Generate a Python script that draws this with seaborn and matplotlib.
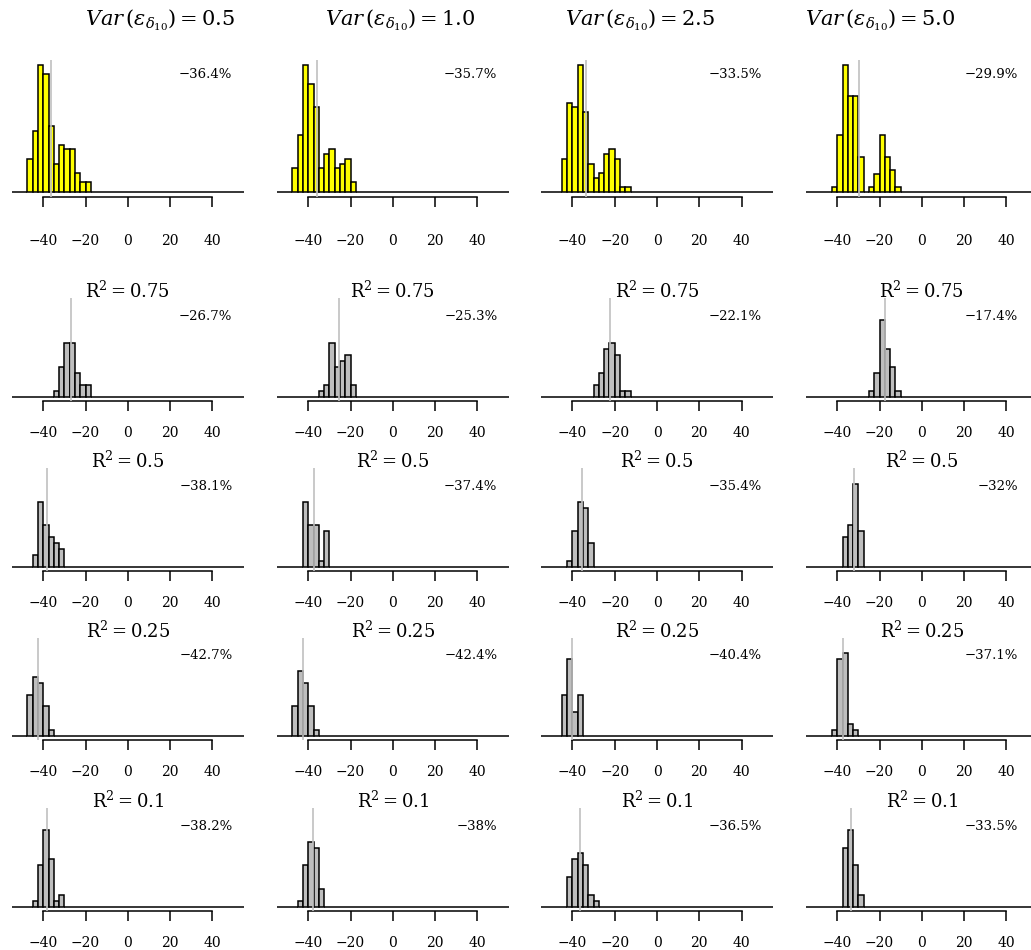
import numpy as np
import pandas as pd
import matplotlib
matplotlib.use("Agg")
import matplotlib.pyplot as plt
import matplotlib.transforms as mtransforms
import seaborn as sns

sns.set_theme(style="white")
plt.rcParams["font.family"] = ["DejaVu Serif"]
plt.rcParams["mathtext.fontset"] = "dejavuserif"
plt.rcParams["text.color"] = "black"
plt.rcParams["xtick.color"] = "black"

# --- data (bin width 2.5, counts per bin) ---
var_values = ["0.5", "1.0", "2.5", "5.0"]
r2_values = ["0.75", "0.5", "0.25", "0.1"]

# top row (yellow): first bin left edge and counts
top_first = [-47.5, -47.5, -45.0, -42.5]
top_counts = [
    [7, 13, 27, 25, 14, 6, 10, 9, 9, 4, 2, 2],
    [5, 12, 27, 23, 18, 5, 8, 9, 5, 6, 7, 2],
    [7, 19, 18, 27, 17, 6, 3, 4, 8, 9, 7, 1, 1],
    [1, 13, 29, 22, 22, 8, 0, 1, 4, 13, 8, 5, 1],
]
top_pct = [-36.4, -35.7, -33.5, -29.9]

# grey rows, one list per R^2 value
grey_first = [
    [-35.0, -35.0, -30.0, -25.0],
    [-45.0, -42.5, -42.5, -37.5],
    [-47.5, -47.5, -45.0, -42.5],
    [-45.0, -45.0, -42.5, -37.5],
]
grey_counts = [
    [[1, 5, 9, 9, 4, 2, 2], [1, 2, 9, 5, 6, 7, 2], [2, 4, 8, 9, 7, 1, 1], [1, 4, 13, 8, 5, 1]],
    [[2, 11, 7, 5, 4, 3], [11, 7, 7, 1, 6], [1, 6, 11, 10, 4], [5, 7, 14, 6]],
    [[7, 10, 9, 5, 1], [5, 11, 9, 5, 1], [7, 13, 4, 7], [1, 13, 14, 2, 1]],
    [[1, 7, 13, 8, 1, 2], [1, 7, 11, 10, 3], [5, 8, 9, 7, 2, 1], [10, 13, 7, 2]],
]
grey_pct = [
    [-26.7, -25.3, -22.1, -17.4],
    [-38.1, -37.4, -35.4, -32],
    [-42.7, -42.4, -40.4, -37.1],
    [-38.2, -38, -36.5, -33.5],
]
grey_ymax = 16

edges = np.arange(-55, 55.01, 2.5)
centers = edges[:-1] + 1.25

# --- layout (pixels) ---
W, H = 1031, 950
col_left = [2.3, 267.3, 531.5, 796.3]
col_w = 251.0
row_top = [59.9, 298.2, 468.2, 637.5, 808.2]
row_h = [136.9, 102.3, 102.3, 102.3, 102.3]
var_title_x = [160, 400, 640, 880]
pct_x = [49.5, 49.5, 49.5, 45.6]

fig = plt.figure(figsize=(W / 100, H / 100), dpi=100)


def full_counts(first, counts):
    out = np.zeros(len(centers))
    i0 = int(round((first - edges[0]) / 2.5))
    out[i0:i0 + len(counts)] = counts
    return out


def panel(r, c, first, counts, pct, ymax, color, pct_y, tick_pad, title=None):
    ax = fig.add_axes([col_left[c] / W, 1 - (row_top[r] + row_h[r]) / H,
                       col_w / W, row_h[r] / H])
    df = pd.DataFrame({"x": centers, "n": full_counts(first, counts)})
    sns.histplot(data=df, x="x", weights="n", binwidth=2.5, binrange=(-55, 55),
                 color=color, edgecolor="black", linewidth=1.1, alpha=1,
                 ax=ax)
    ax.axvline(pct, color="#c0c0c0", lw=1.2, zorder=5)
    ax.set_xlim(-59.4, 59.4)
    ax.set_ylim(-0.04 * ymax, 1.04 * ymax)
    ax.set_xlabel("")
    ax.set_ylabel("")
    ax.set_yticks([])
    ax.set_xticks([-40, -20, 0, 20, 40])
    ax.set_xticklabels(["\u221240", "\u221220", "0", "20", "40"])
    for s in ["left", "right", "top"]:
        ax.spines[s].set_visible(False)
    ax.spines["bottom"].set_bounds(-40, 40)
    ax.spines["bottom"].set_color("black")
    ax.spines["bottom"].set_linewidth(1.1)
    ax.tick_params(axis="x", direction="out", length=7.2, width=1.1,
                   color="black", labelcolor="black", labelsize=10,
                   pad=tick_pad, bottom=True)
    ax.patch.set_alpha(0)
    trans = mtransforms.blended_transform_factory(ax.transData, ax.transAxes)
    ax.text(pct_x[c], pct_y, f"\u2212{abs(pct):g}%", transform=trans,
            ha="right", va="center", fontsize=9.5, color="black")
    if title is not None:
        ax.text(0.5, 1.0, title, transform=ax.transAxes, ha="center",
                va="baseline", fontsize=13, color="black")
    return ax


for c in range(4):
    panel(0, c, top_first[c], top_counts[c], top_pct[c], max(top_counts[c]),
          "#ffff00", 0.897, 19.5)
    fig.text(var_title_x[c] / W, 1 - 25 / H,
             r"$\mathit{Var}\,(\varepsilon_{\delta_{10}}) = " + var_values[c] + "$",
             ha="center", va="baseline", fontsize=15, color="black")

for r in range(4):
    for c in range(4):
        panel(r + 1, c, grey_first[r][c], grey_counts[r][c], grey_pct[r][c],
              grey_ymax, "#bebebe", 0.82, 11,
              title=r"$\mathrm{R}^2 = " + r2_values[r] + "$")

fig.savefig("out.png", dpi=100)
